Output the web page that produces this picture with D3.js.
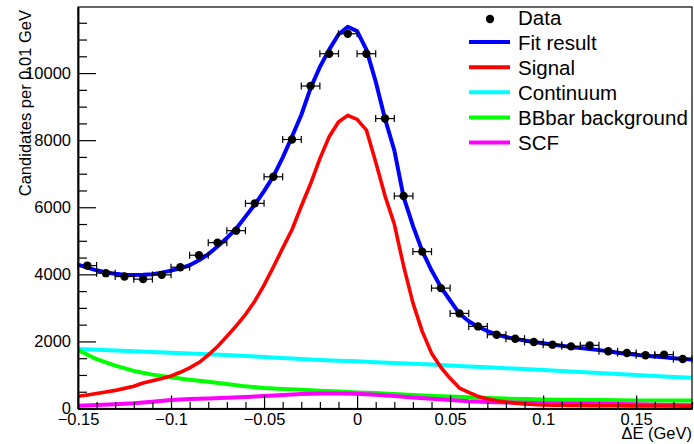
<!DOCTYPE html>
<html>
<head>
<meta charset="utf-8">
<script src="https://cdn.jsdelivr.net/npm/d3@7"></script>
<style>
  html, body { margin: 0; padding: 0; background: #fff; }
  svg { display: block; font-family: "Liberation Sans", Arial, Helvetica, sans-serif; }
</style>
</head>
<body>
<svg id="chart" width="694" height="444"></svg>
<script>
// ---------------- data ----------------
const binCenters = [-0.145, -0.135, -0.125, -0.115, -0.105, -0.095, -0.085, -0.075, -0.065, -0.055,
  -0.045, -0.035, -0.025, -0.015, -0.005, 0.005, 0.015, 0.025, 0.035, 0.045, 0.055,
  0.065, 0.075, 0.085, 0.095, 0.105, 0.115, 0.125, 0.135, 0.145, 0.155, 0.165, 0.175];
const dataCounts = [4261, 4035, 3934, 3857, 3985, 4213, 4570, 4945, 5302, 6116,
  6908, 8020, 9614, 10577, 11172, 10577, 8644, 6334, 4677, 3589, 2835,
  2447, 2200, 2081, 1983, 1903, 1853, 1883, 1705, 1656, 1586, 1606, 1477];
const binHalfWidth = 0.005;

// fine grid (0.005 steps) for fit and signal curves
const fineX = [-0.150, -0.145, -0.140, -0.135, -0.130, -0.125, -0.120, -0.115, -0.110, -0.105,
  -0.100, -0.095, -0.090, -0.085, -0.080, -0.075, -0.070, -0.065, -0.060, -0.055,
  -0.050, -0.045, -0.040, -0.035, -0.030, -0.025, -0.020, -0.015, -0.010, -0.005,
  0.000, 0.005, 0.010, 0.015, 0.020, 0.025, 0.030, 0.035, 0.040, 0.045,
  0.050, 0.055, 0.060, 0.065, 0.070, 0.075, 0.080, 0.085, 0.090, 0.095,
  0.100, 0.105, 0.110, 0.115, 0.120, 0.125, 0.130, 0.135, 0.140, 0.145,
  0.150, 0.155, 0.160, 0.165, 0.170, 0.175, 0.180];
const fitResult = [4290, 4200, 4120, 4055, 4015, 3990, 3980, 3985, 4005, 4050,
  4110, 4180, 4270, 4420, 4600, 4830, 5080, 5360, 5720, 6080,
  6480, 6920, 7480, 8100, 8750, 9550, 10180, 10700, 11150, 11380,
  11250, 10700, 9750, 8640, 7700, 6300, 5450, 4700, 4120, 3620,
  3220, 2830, 2600, 2440, 2310, 2210, 2130, 2075, 2025, 1985,
  1945, 1905, 1870, 1835, 1805, 1775, 1740, 1705, 1665, 1630,
  1600, 1575, 1550, 1525, 1500, 1478, 1457];
const signal = [365, 405, 445, 490, 540, 600, 665, 760, 830, 895,
  970, 1080, 1210, 1370, 1590, 1850, 2150, 2460, 2800, 3200,
  3680, 4220, 4780, 5330, 6030, 6700, 7450, 8100, 8540, 8740,
  8620, 8300, 7350, 6340, 5500, 4250, 3150, 2300, 1650, 1230,
  900, 610, 480, 360, 290, 230, 195, 160, 135, 118,
  108, 100, 95, 90, 88, 85, 83, 81, 80, 78,
  77, 76, 75, 74, 73, 72, 72];

// coarse grid (0.01 steps) for background components
const coarseX = [-0.15, -0.14, -0.13, -0.12, -0.11, -0.10, -0.09, -0.08, -0.07, -0.06,
  -0.05, -0.04, -0.03, -0.02, -0.01, 0.00, 0.01, 0.02, 0.03, 0.04,
  0.05, 0.06, 0.07, 0.08, 0.09, 0.10, 0.11, 0.12, 0.13, 0.14,
  0.15, 0.16, 0.17, 0.18];
const continuum = [1775, 1750, 1730, 1710, 1688, 1665, 1642, 1620, 1592, 1565,
  1535, 1505, 1475, 1445, 1425, 1405, 1382, 1360, 1335, 1310,
  1283, 1255, 1228, 1200, 1175, 1150, 1120, 1090, 1060, 1030,
  1000, 970, 942, 913];
const bbbar = [1740, 1470, 1280, 1120, 1010, 930, 860, 800, 730, 660,
  610, 580, 560, 530, 505, 480, 460, 430, 400, 375,
  355, 335, 310, 295, 280, 270, 262, 255, 250, 245,
  242, 240, 237, 235];
const scf = [82, 102, 128, 155, 200, 250, 280, 300, 320, 345,
  370, 400, 430, 445, 450, 440, 410, 370, 330, 290,
  250, 215, 195, 180, 170, 160, 155, 150, 142, 135,
  125, 115, 108, 100];

const xTickValues = [-0.15, -0.1, -0.05, 0, 0.05, 0.1, 0.15];
const xTickLabels = ["\u22120.15", "\u22120.1", "\u22120.05", "0", "0.05", "0.1", "0.15"];
const yTickValues = [0, 2000, 4000, 6000, 8000, 10000];
const yTickLabels = ["0", "2000", "4000", "6000", "8000", "10000"];

const legendLabels = ["Data", "Fit result", "Signal", "Continuum", "BBbar background", "SCF"];
const legendColors = ["#000000", "#0000ff", "#ff0000", "#00ffff", "#00ff00", "#ff00ff"];

// ---------------- layout ----------------
const svg = d3.select("#chart");
const X0 = 78, X1 = 692, Y0 = 408.5, Y1 = 7;
const x = d3.scaleLinear().domain([-0.15, 0.18]).range([X0, X1]);
const y = d3.scaleLinear().domain([0, 11970]).range([Y0, Y1]);

svg.append("rect").attr("width", 694).attr("height", 444).attr("fill", "#fff");

// curves
const line = d3.line().x(d => x(d[0])).y(d => y(d[1])).curve(d3.curveLinear);
const curves = [
  {xs: coarseX, ys: continuum, color: legendColors[3], w: 4},
  {xs: coarseX, ys: bbbar, color: legendColors[4], w: 4},
  {xs: coarseX, ys: scf, color: legendColors[5], w: 4},
  {xs: fineX, ys: signal, color: legendColors[2], w: 3.6},
  {xs: fineX, ys: fitResult, color: legendColors[1], w: 4}
];
const clip = svg.append("clipPath").attr("id", "frameclip")
  .append("rect").attr("x", X0).attr("y", Y1).attr("width", X1 - X0).attr("height", Y0 - Y1);
const plotG = svg.append("g").attr("clip-path", "url(#frameclip)");
curves.forEach(c => {
  plotG.append("path")
    .datum(c.xs.map((v, i) => [v, c.ys[i]]))
    .attr("d", line)
    .attr("fill", "none")
    .attr("stroke", c.color)
    .attr("stroke-width", c.w)
    .attr("stroke-linejoin", "round");
});

// data points with horizontal error bars
const dataG = svg.append("g");
binCenters.forEach((c, i) => {
  const yy = y(dataCounts[i]);
  const xl = x(c - binHalfWidth), xr = x(c + binHalfWidth);
  dataG.append("line").attr("x1", xl).attr("x2", xr).attr("y1", yy).attr("y2", yy)
    .attr("stroke", "#000").attr("stroke-width", 1.2);
  [xl, xr].forEach(xe => dataG.append("line").attr("x1", xe).attr("x2", xe)
    .attr("y1", yy - 3.5).attr("y2", yy + 3.5).attr("stroke", "#000").attr("stroke-width", 1.2));
  dataG.append("circle").attr("cx", x(c)).attr("cy", yy).attr("r", 4.2).attr("fill", "#000");
});

// frame
svg.append("rect").attr("x", X0).attr("y", Y1).attr("width", X1 - X0).attr("height", Y0 - Y1)
  .attr("fill", "none").attr("stroke", "#000").attr("stroke-width", 1.2);

// axes
const fontSize = 16.5;
const yMinor = d3.range(500, 11970, 500).filter(v => v % 2000 !== 0);
const xMinor = d3.range(-15, 19, 1).map(v => v / 100).filter(v => Math.abs(Math.round(v * 100) % 5) !== 0);

const yAxis = svg.append("g").attr("transform", `translate(${X0},0)`)
  .call(d3.axisLeft(y).tickValues(yTickValues).tickFormat((d, i) => yTickLabels[i])
    .tickSizeInner(-18).tickSizeOuter(0).tickPadding(7));
const yAxisMinor = svg.append("g").attr("transform", `translate(${X0},0)`)
  .call(d3.axisLeft(y).tickValues(yMinor).tickFormat("").tickSizeInner(-9).tickSizeOuter(0));
const xAxis = svg.append("g").attr("transform", `translate(0,${Y0})`)
  .call(d3.axisBottom(x).tickValues(xTickValues).tickFormat((d, i) => xTickLabels[i])
    .tickSizeInner(-13).tickSizeOuter(0).tickPadding(5));
const xAxisMinor = svg.append("g").attr("transform", `translate(0,${Y0})`)
  .call(d3.axisBottom(x).tickValues(xMinor).tickFormat("").tickSizeInner(-6.5).tickSizeOuter(0));

[yAxis, yAxisMinor, xAxis, xAxisMinor].forEach(g => {
  g.select(".domain").attr("stroke", "#000").attr("stroke-width", 1.5);
  g.selectAll(".tick line").attr("stroke", "#000").attr("stroke-width", 1.2);
  g.selectAll("text").attr("font-size", fontSize).attr("fill", "#000")
    .attr("font-family", "'Liberation Sans', Arial, sans-serif");
});

// axis titles
svg.append("text").attr("x", X1).attr("y", 439).attr("text-anchor", "end")
  .attr("font-size", 16.5).attr("fill", "#000").text("\u0394E (GeV)");
svg.append("text").attr("transform", "translate(30.5,10) rotate(-90)").attr("text-anchor", "end")
  .attr("font-size", 16.5).attr("fill", "#000").text("Candidates per 0.01 GeV");

// legend
const legG = svg.append("g");
legendLabels.forEach((lab, i) => {
  const base = 24.5 + i * 25.1;
  if (i === 0) {
    legG.append("circle").attr("cx", 490).attr("cy", base - 5.5).attr("r", 4.2).attr("fill", "#000");
  } else {
    legG.append("line").attr("x1", 469).attr("x2", 510).attr("y1", base - 7.5).attr("y2", base - 7.5)
      .attr("stroke", legendColors[i]).attr("stroke-width", 4);
  }
  legG.append("text").attr("x", 518).attr("y", base).attr("font-size", 20.5).attr("fill", "#000").text(lab);
});
</script>
</body>
</html>
